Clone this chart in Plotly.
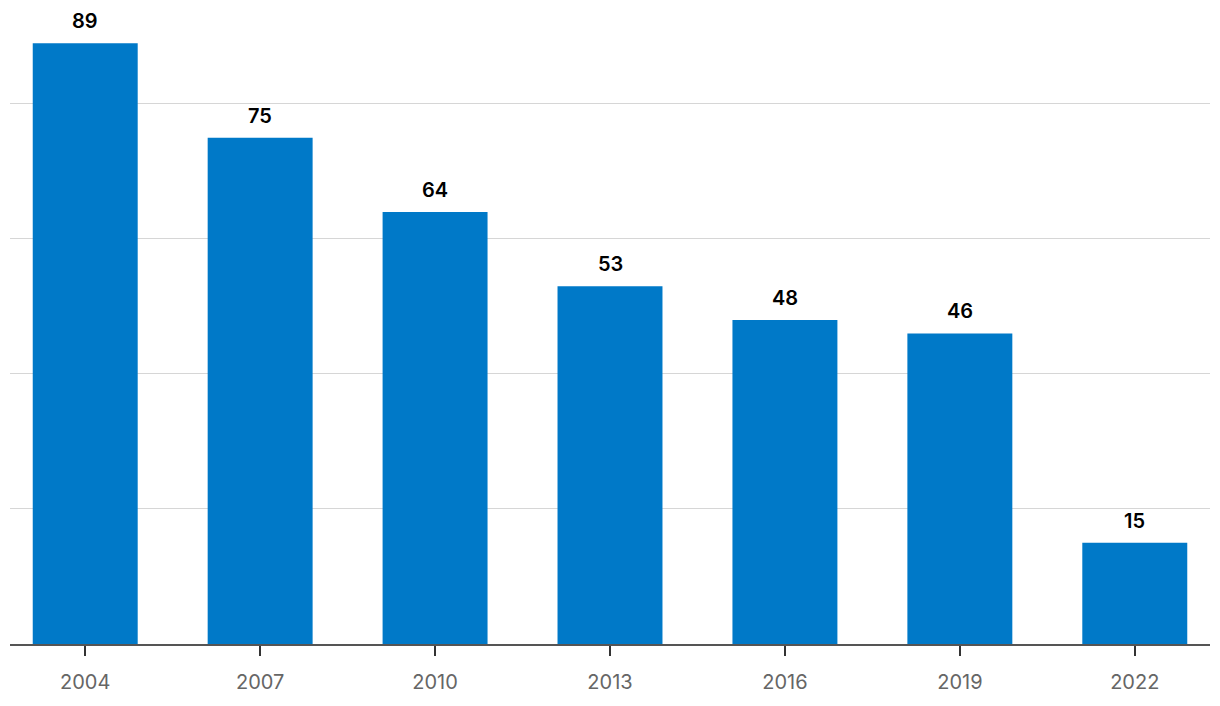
import plotly.graph_objects as go

years = ["2004", "2007", "2010", "2013", "2016", "2019", "2022"]
values = [89, 75, 64, 53, 48, 46, 15]

FONT = "Inter, Roboto, sans-serif"

fig = go.Figure(go.Bar(
    x=years, y=values,
    marker=dict(color="#0079c8", line=dict(width=0)),
    width=0.6,
    cliponaxis=False,
))

for i, v in enumerate(values):
    fig.add_annotation(
        x=i, xref="x", y=v, yref="y", text=str(v), showarrow=False,
        yanchor="bottom", yshift=8,
        font=dict(family=FONT, size=20, color="#000000", weight=600),
    )

fig.update_layout(
    width=1220, height=706,
    margin=dict(l=2, r=18, t=12, b=70, autoexpand=False),
    paper_bgcolor="white", plot_bgcolor="white",
    showlegend=False,
    xaxis=dict(
        type="category",
        range=[-0.43, 6.43],
        automargin=False,
        showline=True, linecolor="#555555", linewidth=2,
        ticks="outside", ticklen=10, tickwidth=2, tickcolor="#333333",
        ticklabelstandoff=9,
        tickfont=dict(family=FONT, size=20, color="#666666"),
        showgrid=False,
    ),
    yaxis=dict(
        range=[0, 92.44],
        automargin=False,
        tickvals=[20, 40, 60, 80],
        showticklabels=False,
        showgrid=True, gridcolor="#d6d6d6", gridwidth=1,
        zeroline=False,
    ),
)

fig.write_html("out.html")
